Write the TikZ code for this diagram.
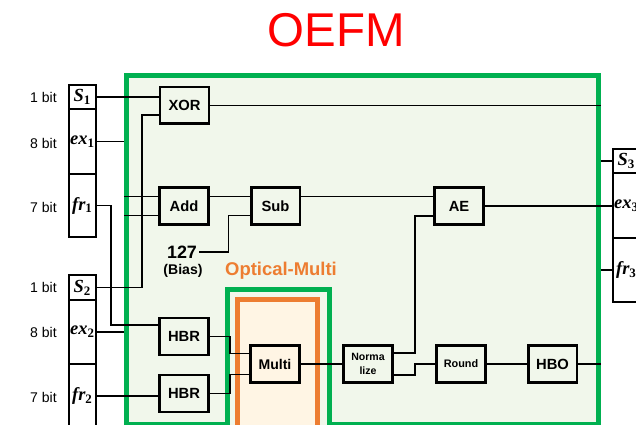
\documentclass[tikz,border=0pt]{standalone}
\usepackage{fontspec}
\setmainfont{Liberation Sans}
\newfontfamily\varfont{Liberation Serif}
\usetikzlibrary{calc}
\definecolor{oegreen}{RGB}{0,176,80}
\definecolor{oefill}{RGB}{241,247,235}
\definecolor{oeorange}{RGB}{237,125,49}
\definecolor{oecream}{RGB}{255,245,228}
\newcommand{\varlbl}[2]{{\varfont\bfseries\itshape #1}{\varfont\bfseries\textsubscript{#2}}}
\begin{document}
\begin{tikzpicture}[x=0.02cm, y=-0.02cm, every node/.style={font=\fontsize{8}{9}\selectfont},
  blk/.style={draw, line width=1.7pt, fill=oefill, minimum width=0.98cm, minimum height=0.74cm, inner sep=0pt, font=\bfseries\fontsize{8.4}{9}\selectfont},
  cell/.style={draw, line width=1.2pt, fill=white, minimum width=0.54cm, inner sep=0pt, font=\fontsize{10.5}{11}\selectfont},
  frame/.style={line width=2.8pt, inner sep=0pt, anchor=north west},
  wire/.style={line width=0.75pt}]
\useasboundingbox (0,0) rectangle (636,425);
\node[frame, draw=oegreen, fill=oefill, minimum width=9.44cm, minimum height=6.98cm] (oefm) at (124,73) {};
\node[frame, draw=oegreen, fill=oefill, minimum width=2.04cm, minimum height=3.4cm] (optgrp) at (225,287) {};
\node[frame, draw=oeorange, fill=oecream, minimum width=1.6cm, minimum height=3.4cm] (optcore) at (235,297) {};
\node[font=\fontsize{27}{30}\selectfont, text=red] (title) at (336,30) {OEFM};
\node[font=\bfseries\fontsize{10.5}{12}\selectfont, text=oeorange] (optlbl) at (281,271) {Optical-Multi};
\node[cell, minimum height=0.48cm] (s1) at (82.5,97) {\varlbl{S}{1}};
\node[cell, minimum height=1.3cm] (ex1) at (82.5,141.5) {\varlbl{ex}{1}};
\node[cell, minimum height=1.26cm] (fr1) at (82.5,205.5) {\varlbl{fr}{1}};
\node[cell, minimum height=0.5cm] (s2) at (82.5,287.5) {\varlbl{S}{2}};
\node[cell, minimum height=1.28cm] (ex2) at (82.5,332) {\varlbl{ex}{2}};
\node[cell, minimum height=1.28cm] (fr2) at (82.5,396) {\varlbl{fr}{2}};
\node[cell, minimum height=0.48cm] (s3) at (626.5,161) {\varlbl{S}{3}};
\node[cell, minimum height=1.3cm] (ex3) at (626.5,205.5) {\varlbl{ex}{3}};
\node[cell, minimum height=1.28cm] (fr3) at (626.5,270) {\varlbl{fr}{3}};
\node (bit1) at (43.5,97) {1 bit};
\node (bit2) at (43.5,143) {8 bit};
\node (bit3) at (43.5,207) {7 bit};
\node (bit4) at (43.5,287.5) {1 bit};
\node (bit5) at (43.5,332) {8 bit};
\node (bit6) at (43.5,397) {7 bit};
\node[blk] (xor) at (184.5,105.5) {XOR};
\node[blk] (add) at (184,206) {Add};
\node[blk] (sub) at (275.5,206) {Sub};
\node[blk] (ae) at (459,206) {AE};
\node[blk] (hbr1) at (184,336.5) {HBR};
\node[blk] (hbr2) at (184,393.5) {HBR};
\node[blk, fill=oecream, font=\bfseries\fontsize{8}{9}\selectfont] (multi) at (275,364) {Multi};
\node[blk, font=\bfseries\fontsize{6}{7.5}\selectfont, align=center] (norm) at (368,364) {Norma\\lize};
\node[blk, font=\bfseries\fontsize{6.2}{7}\selectfont] (round) at (461,364) {Round};
\node[blk] (hbo) at (552.5,364) {HBO};
\node[font=\bfseries\fontsize{10.2}{12}\selectfont, inner sep=1pt] (bias) at (182,252) {127};
\node[font=\bfseries\fontsize{8}{9}\selectfont] (biaslbl) at (183,271) {(Bias)};
\coordinate (addin1) at ($(add.west)+(0,-9.5)$);
\coordinate (addin2) at ($(add.west)+(0,9.5)$);
\draw[wire] (s1.east) -- (s1 -| xor.west);
\draw[wire] (ex1.east) -- (ex1 -| oefm.west);
\draw[wire] (fr1.east) -- ++(14,0) |- ($(hbr1.west)+(0,-11.5)$);
\draw[wire] (s2.east) -- ++(45,0) |- ($(xor.west)+(0,9.5)$);
\draw[wire] (addin1 -| oefm.west) -- (addin1);
\draw[wire] (addin2 -| oefm.west) -- (addin2);
\draw[wire] ($(add.east)+(0,-9.5)$) -- ($(sub.west)+(0,-9.5)$);
\draw[wire] (bias.east) -| ($(sub.west)+(-21,9.5)$) -- ($(sub.west)+(0,9.5)$);
\draw[wire] ($(sub.east)+(0,-9.5)$) -- ($(ae.west)+(0,-9.5)$);
\draw[wire] (xor.east) -- (xor.east -| oefm.east);
\draw[wire] (ae.east) -- (ae.east -| ex3.west);
\draw[wire] (s3 -| oefm.east) -- (s3.west);
\draw[wire] (fr3 -| oefm.east) -- (fr3.west);
\draw[wire] (ex2.east) -- (ex2 -| oefm.west);
\draw[wire] (fr2.east) -- (fr2 -| hbr2.west);
\draw[wire] (hbr1.east) -- ++(20,0) |- ($(multi.west)+(0,-10.5)$);
\draw[wire] (hbr2.east) -- ++(20,0) |- ($(multi.west)+(0,10.5)$);
\draw[wire] (multi) -- (norm);
\draw[wire] ($(norm.east)+(0,-11)$) -- ++(21,0) |- ($(ae.west)+(0,10)$);
\draw[wire] ($(norm.east)+(0,11)$) -- ++(21,0) |- (round.west);
\draw[wire] (round) -- (hbo);
\draw[wire] (hbo.east) -- (hbo -| oefm.east);
\end{tikzpicture}
\end{document}
